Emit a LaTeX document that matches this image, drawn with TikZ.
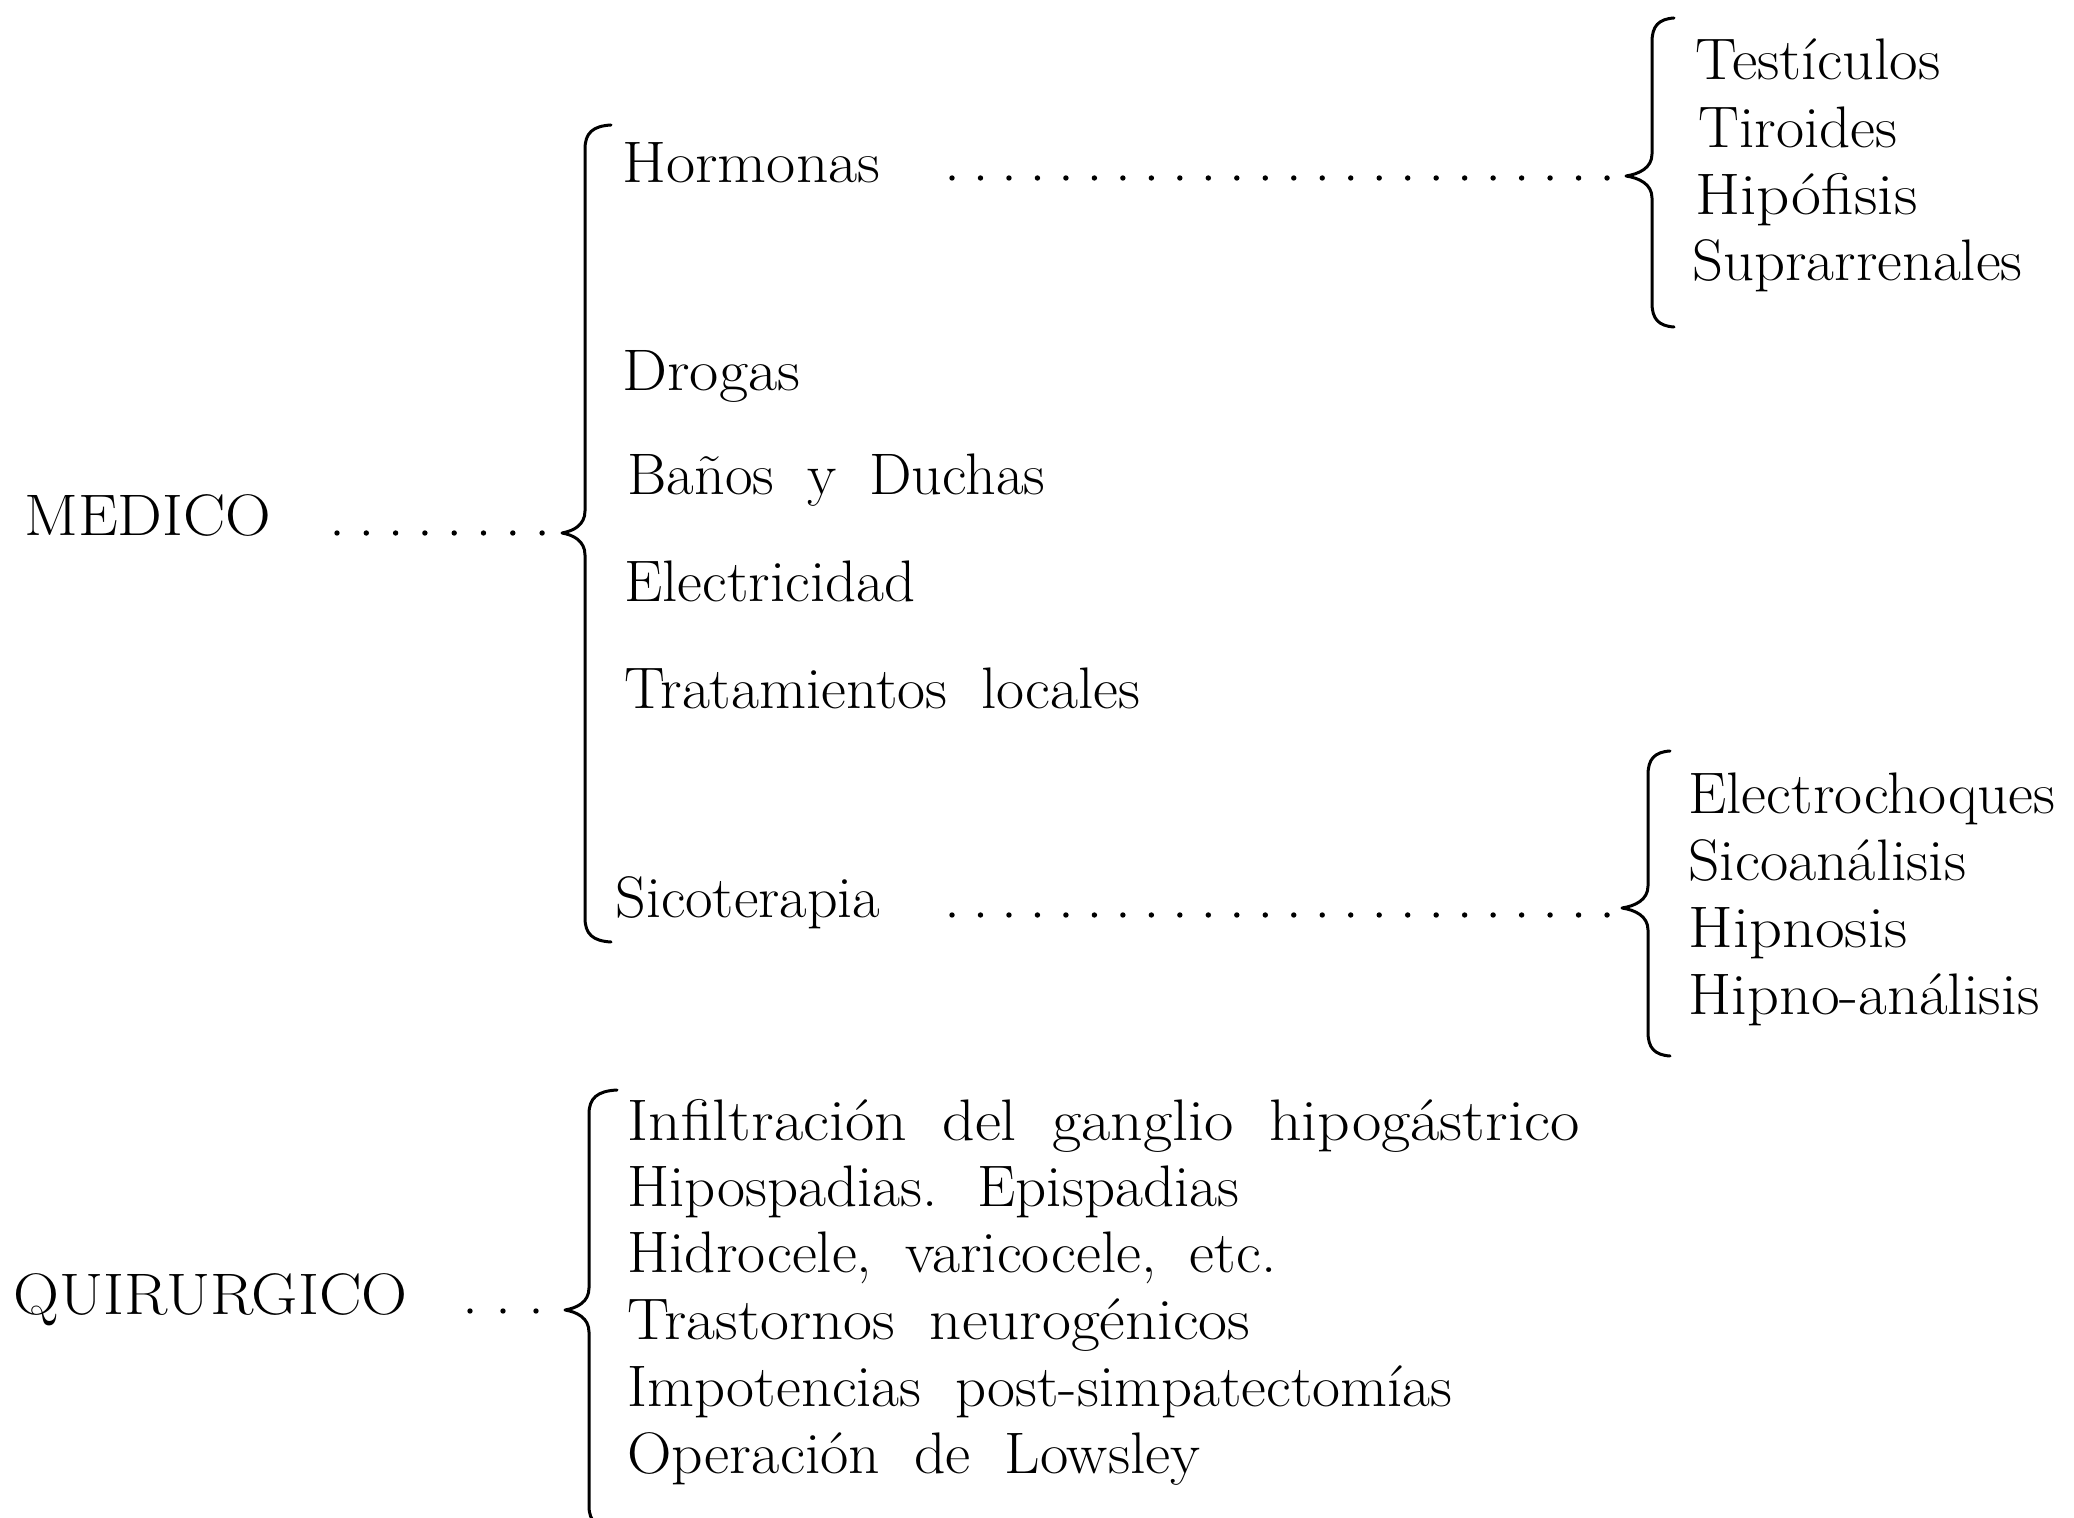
\documentclass[tikz,border=0pt]{standalone}
\usepackage{graphicx}
\usetikzlibrary{calc}
\newsavebox\fitbox
\newlength\fitlen
% set #2 and scale it horizontally to #1 pixels (1px = 0.5pt)
\newcommand\fitw[2]{\sbox\fitbox{\spaceskip=0.55em plus 0.1em\relax #2}\setlength\fitlen{\wd\fitbox}%
  \pgfmathsetmacro\fitfac{(#1*0.5)/\fitlen}\scalebox{\fitfac}[1]{\usebox\fitbox}}
% brace: #1 x of stem, #2 top y, #3 tip y, #4 bottom y, #5 tip depth, #6 curl reach
\newcommand\drawbrace[6]{%
  \draw[bracestyle] (#1+#6,#2) .. controls (#1+0.3*#6,#2+1) and (#1,#2+8) .. (#1,#2+24)
   -- (#1,#3-22) .. controls (#1,#3-8) and (#1-0.5*#5,#3-2) .. (#1-#5,#3)
   .. controls (#1-0.5*#5,#3+2) and (#1,#3+8) .. (#1,#3+22)
   -- (#1,#4-24) .. controls (#1,#4-8) and (#1+0.3*#6,#4-1) .. (#1+#6,#4);}
\begin{document}
\begin{tikzpicture}[x=0.5pt,y=-0.5pt,
  txt/.style={inner sep=0pt, anchor=base west, font=\fontsize{29.3}{35}\selectfont},
  bracestyle/.style={line width=1.5pt, line cap=round, line join=round},
  leader/.style={line width=2.7pt, line cap=round, dash pattern=on 0pt off #1}]
\useasboundingbox (0,0) rectangle (2074,1518);

% ---------- MEDICO ----------
\node[txt] (medico) at (24,536) {\fitw{247}{MEDICO}};
\coordinate (md1) at (337,533);
\coordinate (md2) at (544,533);
\draw[leader=14.65pt] (md1) -- (md2);
\drawbrace{585}{125}{533}{942}{23}{26}

\node[txt] (hormonas) at (622,183) {\fitw{258}{Hormonas}};
\node[txt] (drogas) at (622,391) {\fitw{178}{Drogas}};
\node[txt] (banos) at (627,495) {\fitw{418}{Baños y Duchas}};
\node[txt] (elec) at (624,602) {\fitw{291}{Electricidad}};
\node[txt] (trat) at (624,709) {\fitw{516}{Tratamientos locales}};
\node[txt] (sico) at (615,918) {\fitw{265}{Sicoterapia}};

% Hormonas leader and sub-brace
\coordinate (hd1) at (952,178);
\coordinate (hd2) at (1609,178);
\draw[leader=14.24pt] (hd1) -- (hd2);
\drawbrace{1652}{18}{176}{327}{26}{22}
\node[txt] (test) at (1695,80) {\fitw{245}{Testículos}};
\node[txt] (tiro) at (1698,148) {\fitw{199}{Tiroides}};
\node[txt] (hipo) at (1695,215) {\fitw{222}{Hipófisis}};
\node[txt] (supr) at (1692,281) {\fitw{330}{Suprarrenales}};

% Sicoterapia leader and sub-brace
\coordinate (sd1) at (952,915);
\coordinate (sd2) at (1608,915);
\draw[leader=14.24pt] (sd1) -- (sd2);
\drawbrace{1648}{751}{908}{1056}{26}{22}
\node[txt] (echo) at (1688,814) {\fitw{367}{Electrochoques}};
\node[txt] (sican) at (1688,880) {\fitw{278}{Sicoanálisis}};
\node[txt] (hipn) at (1688,947) {\fitw{219}{Hipnosis}};
\node[txt] (hipnan) at (1688,1014) {\fitw{351}{Hipno-análisis}};

% ---------- QUIRURGICO ----------
\node[txt] (quir) at (13,1314) {\fitw{394}{QUIRURGICO}};
\coordinate (qd1) at (470,1311);
\coordinate (qd2) at (538,1311);
\draw[leader=16.5pt] (qd1) -- (qd2);
\drawbrace{589}{1090}{1310}{1530}{24}{28}
\node[txt] (q1) at (627,1140) {\fitw{952}{Infiltración del ganglio hipogástrico}};
\node[txt] (q2) at (627,1206) {\fitw{612}{Hipospadias. Epispadias}};
\node[txt] (q3) at (627,1272) {\fitw{649}{Hidrocele, varicocele, etc.}};
\node[txt] (q4) at (627,1339) {\fitw{623}{Trastornos neurogénicos}};
\node[txt] (q5) at (627,1406) {\fitw{825}{Impotencias post-simpatectomías}};
\node[txt] (q6) at (627,1473) {\fitw{573}{Operación de Lowsley}};
\end{tikzpicture}
\end{document}
